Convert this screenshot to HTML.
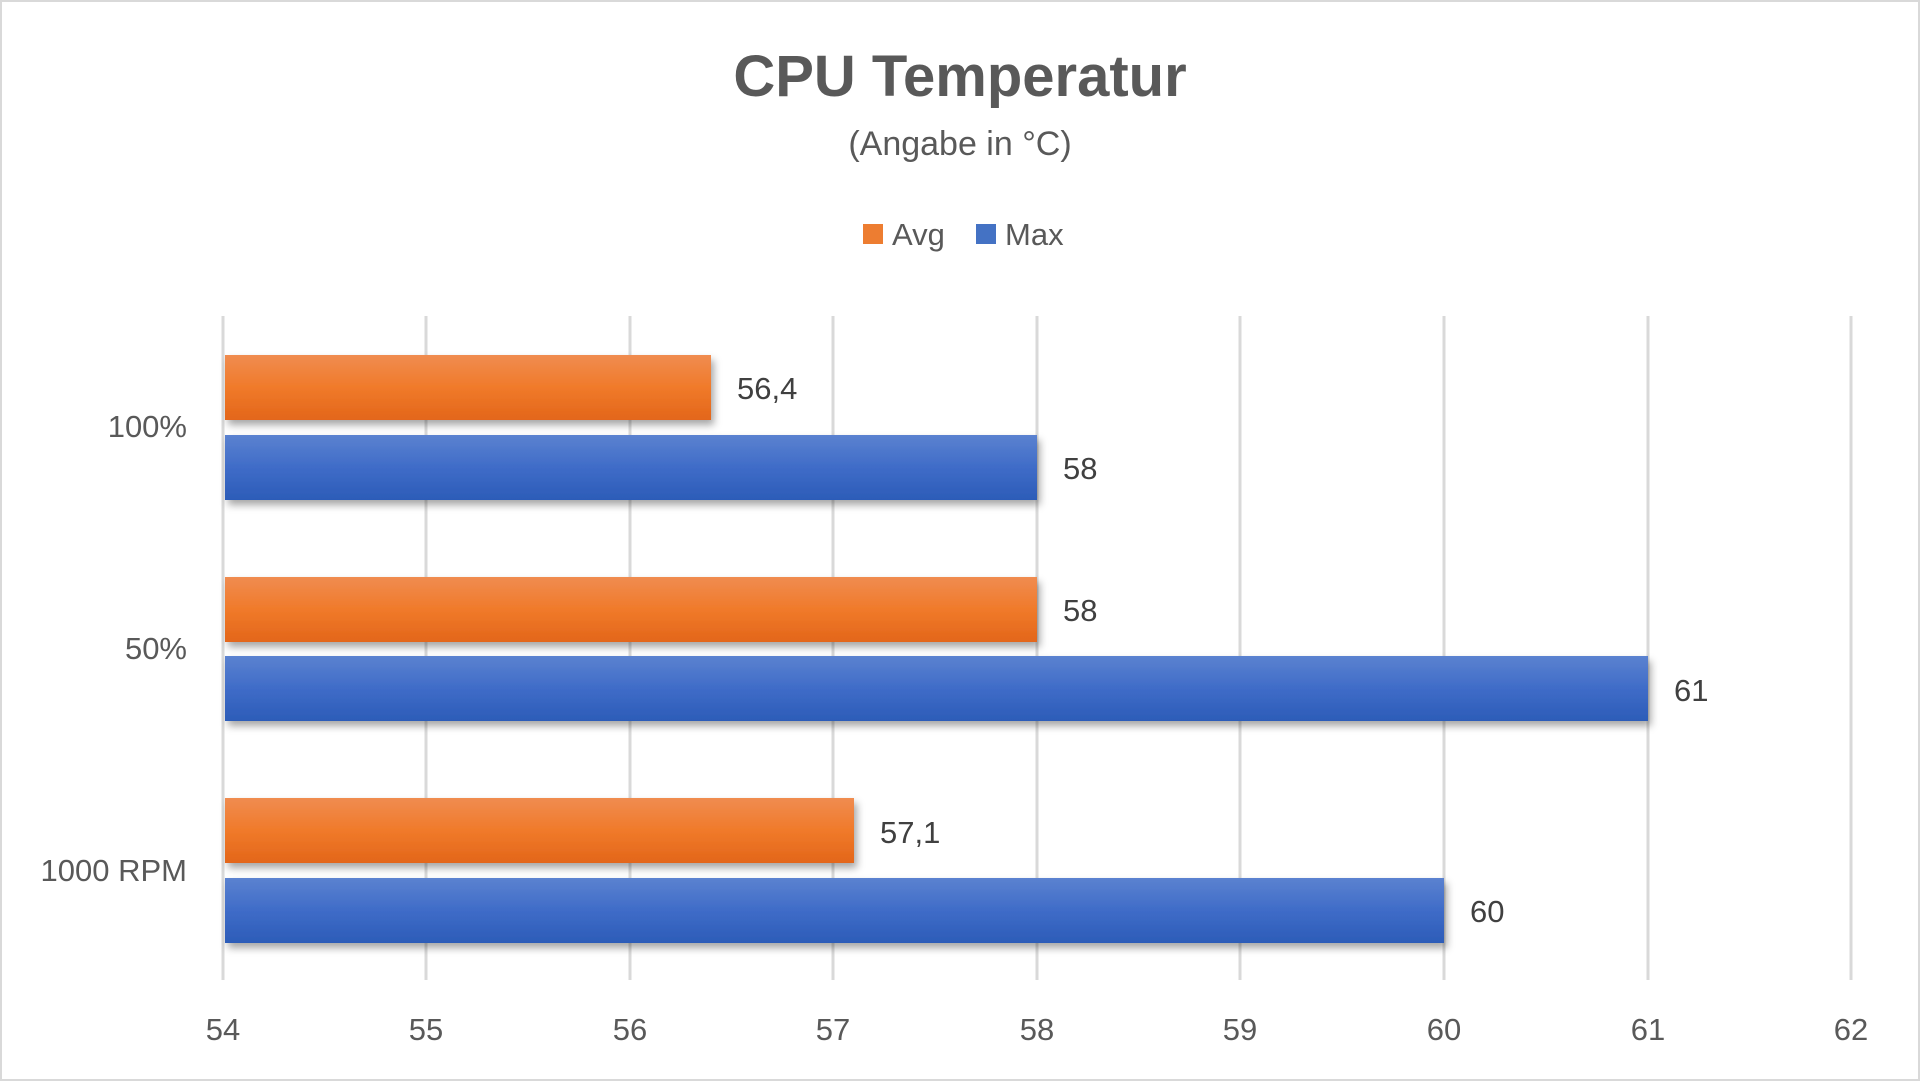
<!DOCTYPE html>
<html><head><meta charset="utf-8"><style>
html,body{margin:0;padding:0;background:#fff;}
svg{display:block;font-family:"Liberation Sans",sans-serif;}
</style></head><body>
<svg width="1920" height="1081" viewBox="0 0 1920 1081" xmlns="http://www.w3.org/2000/svg">
<defs>
<linearGradient id="og" x1="0" y1="0" x2="0" y2="1">
<stop offset="0" stop-color="#f08c50"/><stop offset="0.5" stop-color="#f07a2a"/><stop offset="1" stop-color="#e3661a"/></linearGradient>
<linearGradient id="bg" x1="0" y1="0" x2="0" y2="1">
<stop offset="0" stop-color="#5b82d0"/><stop offset="0.5" stop-color="#3f6cc8"/><stop offset="1" stop-color="#2c5cb8"/></linearGradient>
<filter id="sh" x="-5%" y="-20%" width="110%" height="160%"><feDropShadow dx="3" dy="5" stdDeviation="4" flood-color="#000" flood-opacity="0.35"/></filter>
</defs>
<rect x="1" y="1" width="1918" height="1079" fill="#fff" stroke="#d9d9d9" stroke-width="2"/>
<text x="960" y="96" text-anchor="middle" font-size="58" font-weight="bold" fill="#595959">CPU Temperatur</text>
<text x="960" y="155" text-anchor="middle" font-size="34" fill="#595959">(Angabe in °C)</text>
<rect x="863" y="224" width="20" height="20" fill="#ed7d31"/>
<text x="892" y="245" font-size="31" fill="#595959">Avg</text>
<rect x="976" y="224" width="20" height="20" fill="#4472c4"/>
<text x="1005" y="245" font-size="31" fill="#595959">Max</text>
<g stroke="#d9d9d9" stroke-width="3">
<line x1="426" y1="316" x2="426" y2="980"/><line x1="630" y1="316" x2="630" y2="980"/>
<line x1="833" y1="316" x2="833" y2="980"/><line x1="1037" y1="316" x2="1037" y2="980"/>
<line x1="1240" y1="316" x2="1240" y2="980"/><line x1="1444" y1="316" x2="1444" y2="980"/>
<line x1="1648" y1="316" x2="1648" y2="980"/><line x1="1851" y1="316" x2="1851" y2="980"/>
<line x1="223" y1="316" x2="223" y2="980"/>
</g>
<g filter="url(#sh)">
<rect x="225" y="355" width="486" height="65" fill="url(#og)"/>
<rect x="225" y="435" width="812" height="65" fill="url(#bg)"/>
<rect x="225" y="577" width="812" height="65" fill="url(#og)"/>
<rect x="225" y="656" width="1423" height="65" fill="url(#bg)"/>
<rect x="225" y="798" width="629" height="65" fill="url(#og)"/>
<rect x="225" y="878" width="1219" height="65" fill="url(#bg)"/>
</g>
<g font-size="31" fill="#404040">
<text x="737" y="399">56,4</text>
<text x="1063" y="479">58</text>
<text x="1063" y="621">58</text>
<text x="1674" y="701">61</text>
<text x="880" y="843">57,1</text>
<text x="1470" y="922">60</text>
</g>
<g font-size="31" fill="#595959" text-anchor="end">
<text x="187" y="437">100%</text>
<text x="187" y="659">50%</text>
<text x="187" y="881">1000 RPM</text>
</g>
<g font-size="31" fill="#595959" text-anchor="middle">
<text x="223" y="1040">54</text><text x="426" y="1040">55</text><text x="630" y="1040">56</text>
<text x="833" y="1040">57</text><text x="1037" y="1040">58</text><text x="1240" y="1040">59</text>
<text x="1444" y="1040">60</text><text x="1648" y="1040">61</text><text x="1851" y="1040">62</text>
</g>
</svg>
</body></html>
